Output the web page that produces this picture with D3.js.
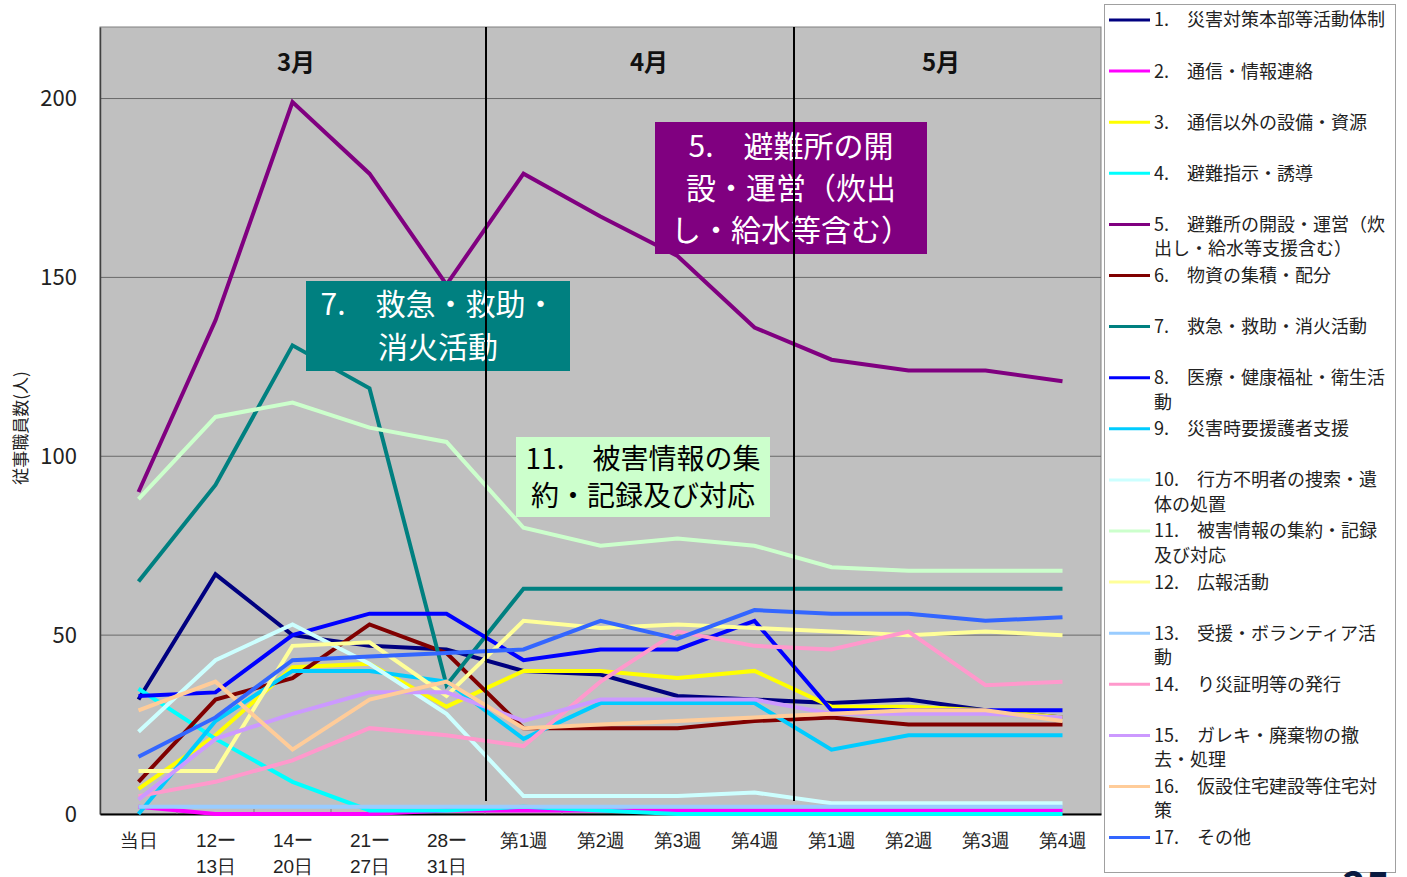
<!DOCTYPE html>
<html lang="ja">
<head>
<meta charset="utf-8">
<script src="https://cdn.jsdelivr.net/npm/d3@7"></script>
<style>
  html, body { margin: 0; padding: 0; background: #fff; }
  svg { display: block; font-family: "Noto Sans CJK JP", "Noto Sans", sans-serif; }
</style>
</head>
<body>
<svg id="chart" width="1407" height="877"></svg>
<script>
// 期間（横軸）
const categories = ["当日", "12ー\n13日", "14ー\n20日", "21ー\n27日", "28ー\n31日",
  "第1週", "第2週", "第3週", "第4週", "第1週", "第2週", "第3週", "第4週"];
const months = ["3月", "4月", "5月"];
const yTicks = [0, 50, 100, 150, 200];

// 業務ごとの従事職員数（人）
const seriesNames = [
  "1.　災害対策本部等活動体制",
  "2.　通信・情報連絡",
  "3.　通信以外の設備・資源",
  "4.　避難指示・誘導",
  "5.　避難所の開設・運営（炊\n出し・給水等支援含む）",
  "6.　物資の集積・配分",
  "7.　救急・救助・消火活動",
  "8.　医療・健康福祉・衛生活\n動",
  "9.　災害時要援護者支援",
  "10.　行方不明者の捜索・遺\n体の処置",
  "11.　被害情報の集約・記録\n及び対応",
  "12.　広報活動",
  "13.　受援・ボランティア活\n動",
  "14.　り災証明等の発行",
  "15.　ガレキ・廃棄物の撤\n去・処理",
  "16.　仮設住宅建設等住宅対\n策",
  "17.　その他"
];
const s1  = [32, 67, 50, 47, 46, 40, 39, 33, 32, 31, 32, 29, 27];
const s2  = [2, 0, 0, 0, 1, 1, 1, 1, 1, 1, 1, 1, 1];
const s3  = [7, 22, 41, 42, 30, 40, 40, 38, 40, 30, 30, 29, 27];
const s4  = [35, 21, 9, 1, 1, 2, 1, 0, 0, 0, 0, 0, 0];
const s5  = [90, 138, 199, 179, 148, 179, 167, 156, 136, 127, 124, 124, 121];
const s6  = [9, 32, 38, 53, 45, 24, 24, 24, 26, 27, 25, 25, 25];
const s7  = [65, 92, 131, 119, 36, 63, 63, 63, 63, 63, 63, 63, 63];
const s8  = [33, 34, 50, 56, 56, 43, 46, 46, 54, 29, 29, 29, 29];
const s9  = [0, 26, 40, 40, 37, 21, 31, 31, 31, 18, 22, 22, 22];
const s10 = [23, 43, 53, 42, 28, 5, 5, 5, 6, 3, 3, 3, 3];
const s11 = [88, 111, 115, 108, 104, 80, 75, 77, 75, 69, 68, 68, 68];
const s12 = [12, 12, 47, 48, 33, 54, 52, 53, 52, 51, 50, 51, 50];
const s13 = [2, 2, 2, 2, 2, 2, 2, 2, 2, 2, 2, 2, 2];
const s14 = [5, 9, 15, 24, 22, 19, 37, 51, 47, 46, 51, 36, 37];
const s15 = [4, 21, 28, 34, 34, 26, 32, 32, 32, 28, 28, 28, 27];
const s16 = [29, 37, 18, 32, 37, 24, 25, 26, 27, 28, 29, 29, 26];
const s17 = [16, 27, 43, 44, 45, 46, 54, 49, 57, 56, 56, 54, 55];
const seriesValues = [s1, s2, s3, s4, s5, s6, s7, s8, s9, s10, s11, s12, s13, s14, s15, s16, s17];
const seriesColors = ["#000080", "#FF00FF", "#FFFF00", "#00FFFF", "#800080", "#800000", "#008080",
  "#0000FF", "#00CCFF", "#CCFFFF", "#CCFFCC", "#FFFF99", "#99CCFF", "#FF99CC", "#CC99FF",
  "#FFCC99", "#3366FF"];

// 注記ボックス
const notes = [
  { lines: ["5.　避難所の開", "設・運営（炊出", "し・給水等含む）"], fill: "#800080", color: "#fff" },
  { lines: ["7.　救急・救助・", "消火活動"], fill: "#008080", color: "#fff" },
  { lines: ["11.　被害情報の集", "約・記録及び対応"], fill: "#CCFFCC", color: "#000" }
];

const svg = d3.select("#chart");
const plot = { left: 100, right: 1101, top: 27, bottom: 814 };

const x = d3.scalePoint()
  .domain(d3.range(categories.length))
  .range([plot.left, plot.right])
  .padding(0.5);
const step = x.step();
const y = d3.scaleLinear().domain([0, 220]).range([plot.bottom, plot.top]);

// プロット領域の背景
svg.append("rect")
  .attr("x", plot.left).attr("y", plot.top)
  .attr("width", plot.right - plot.left).attr("height", plot.bottom - plot.top)
  .attr("fill", "#C0C0C0").attr("stroke", "#808080").attr("stroke-width", 1);

// 目盛線
svg.append("g")
  .selectAll("line")
  .data(yTicks.filter(d => d > 0))
  .join("line")
  .attr("x1", plot.left).attr("x2", plot.right)
  .attr("y1", d => y(d)).attr("y2", d => y(d))
  .attr("stroke", "#6a6a6a").attr("stroke-width", 1);

// 縦軸
const yAxis = svg.append("g")
  .attr("transform", `translate(${plot.left},0)`)
  .call(d3.axisLeft(y).tickValues(yTicks).tickSize(0).tickPadding(23));
yAxis.select(".domain").attr("stroke", "#404040").attr("stroke-width", 1.5);
yAxis.selectAll("text")
  .attr("font-size", 22).attr("fill", "#222")
  .attr("font-family", "'Noto Sans CJK JP', sans-serif");

// 横軸
const xAxis = svg.append("g")
  .attr("transform", `translate(0,${plot.bottom})`)
  .call(d3.axisBottom(x).tickSize(0).tickFormat(""));
xAxis.select(".domain").attr("stroke", "#000").attr("stroke-width", 2);
xAxis.selectAll(".tick").each(function (d) {
  const t = d3.select(this).append("text")
    .attr("fill", "#222").attr("font-size", 19).attr("text-anchor", "middle");
  categories[d].split("\n").forEach((line, i) => {
    t.append("tspan").attr("x", 0).attr("y", 33 + i * 26).text(line);
  });
});
// 区切り目盛
svg.append("g")
  .selectAll("line")
  .data(d3.range(1, categories.length))
  .join("line")
  .attr("x1", d => x(d) - step / 2).attr("x2", d => x(d) - step / 2)
  .attr("y1", plot.bottom - 5).attr("y2", plot.bottom)
  .attr("stroke", "#808080").attr("stroke-width", 1);

// 縦軸タイトル
svg.append("text")
  .attr("transform", "translate(27,428) rotate(-90)")
  .attr("text-anchor", "middle")
  .attr("font-size", 17).attr("fill", "#222")
  .text("従事職員数(人)");

// 折れ線
const line = d3.line().x((d, i) => x(i)).y(d => y(d));
svg.append("g")
  .selectAll("path")
  .data(seriesValues)
  .join("path")
  .attr("d", d => line(d))
  .attr("fill", "none")
  .attr("stroke", (d, i) => seriesColors[i])
  .attr("stroke-width", 4)
  .attr("stroke-linejoin", "miter");

// 注記ボックス
const noteBoxes = [
  { x: 655, y: 122, w: 272, h: 132, size: 30, lh: 42 },
  { x: 306, y: 281, w: 264, h: 90, size: 30, lh: 43 },
  { x: 516, y: 437, w: 254, h: 80, size: 28, lh: 37 }
];
notes.forEach((n, k) => {
  const b = noteBoxes[k];
  const g = svg.append("g");
  g.append("rect").attr("x", b.x).attr("y", b.y).attr("width", b.w).attr("height", b.h)
    .attr("fill", n.fill);
  const cy = b.y + b.h / 2 - (n.lines.length - 1) * b.lh / 2;
  n.lines.forEach((l, i) => {
    g.append("text")
      .attr("x", b.x + b.w / 2).attr("y", cy + i * b.lh)
      .attr("dy", "0.36em")
      .attr("text-anchor", "middle")
      .attr("font-size", b.size).attr("fill", n.color)
      .text(l);
  });
});

// 月の区切り線
svg.append("g")
  .selectAll("line")
  .data([5, 9])
  .join("line")
  .attr("x1", d => x(d) - step / 2 + 1).attr("x2", d => x(d) - step / 2 + 1)
  .attr("y1", plot.top).attr("y2", 801)
  .attr("stroke", "#000").attr("stroke-width", 2);

// 月ラベル
const monthX = [296, 649, 941];
svg.append("g")
  .selectAll("text")
  .data(months)
  .join("text")
  .attr("x", (d, i) => monthX[i]).attr("y", 62)
  .attr("dy", "0.36em")
  .attr("text-anchor", "middle")
  .attr("font-size", 24).attr("font-weight", "bold").attr("fill", "#111")
  .text(d => d);

// 凡例
const legend = svg.append("g");
legend.append("rect")
  .attr("x", 1104.5).attr("y", 4.5).attr("width", 291).attr("height", 868)
  .attr("fill", "#fff").attr("stroke", "#a0a0a0").attr("stroke-width", 1);
seriesNames.forEach((name, i) => {
  const ly = 20 + i * 51.1;
  legend.append("line")
    .attr("x1", 1109).attr("x2", 1150).attr("y1", ly).attr("y2", ly)
    .attr("stroke", seriesColors[i]).attr("stroke-width", 3);
  name.split("\n").forEach((part, j) => {
    legend.append("text")
      .attr("x", 1154).attr("y", ly + j * 24.5)
      .attr("dy", "0.36em")
      .attr("font-size", 18).attr("fill", "#222")
      .text(part);
  });
});

// ページ番号
svg.append("text")
  .attr("x", 1366).attr("y", 902)
  .attr("text-anchor", "middle")
  .attr("font-size", 40).attr("font-weight", "bold").attr("fill", "#0a1a40")
  .text("25");
</script>
</body>
</html>
